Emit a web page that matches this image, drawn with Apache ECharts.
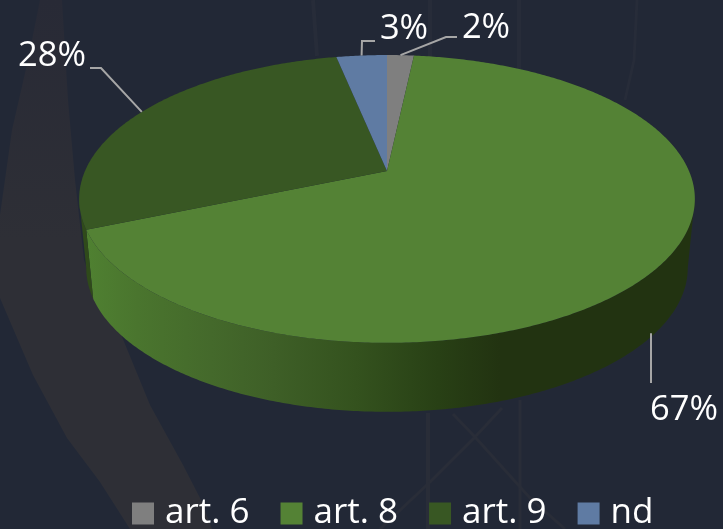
<!DOCTYPE html>
<html>
<head>
<meta charset="utf-8">
<style>
  html, body { margin: 0; padding: 0; background: #222836; }
  #chart { width: 723px; height: 529px; }
</style>
<script src="https://cdn.jsdelivr.net/npm/echarts@6/dist/echarts.min.js"></script>
</head>
<body>
<div id="chart"></div>
<script>
var categories = ['art. 6', 'art. 8', 'art. 9', 'nd'];
// estimated from the slice edges, the labels show them rounded
var shares = [1.7, 66.9, 28.2, 3.2];

var colors = ['#7f7f7f', '#548235', '#385723', '#5f7ba3'];
var total = shares.reduce(function (a, b) { return a + b; }, 0);
var fontName = '"Open Sans", "Noto Sans", sans-serif';

// pie is seen in perspective, so the circle goes through a projective map
var cx = 387, apexY = 171, rU = 302, rV = 105.3, k = -0.194;
var depth = 69, bottomScale = 0.977;
var sideRight = Math.acos(k), sideLeft = Math.PI * 2 - sideRight;

function rim(theta) {
  var u = Math.sin(theta), v = -Math.cos(theta), w = 1 + k * v;
  return [cx + rU * u / w, (apexY + rV * v) / w];
}
function lower(p) {
  return [cx + (p[0] - cx) * bottomScale, p[1] + depth];
}
function arc(a0, a1) {
  var n = Math.max(2, Math.ceil(Math.abs(a1 - a0) / 0.01)), pts = [];
  for (var i = 0; i <= n; i++) pts.push(rim(a0 + (a1 - a0) * i / n));
  return pts;
}

var wallFront = new echarts.graphic.LinearGradient(88, 0, 500, 0, [
  { offset: 0, color: '#4f8031' },
  { offset: 0.12, color: '#4a752e' },
  { offset: 0.3, color: '#44692b' },
  { offset: 0.45, color: '#3e5f27' },
  { offset: 0.65, color: '#34521e' },
  { offset: 0.85, color: '#284015' },
  { offset: 1, color: '#223311' }
], true);
var wallFills = ['#5c5c5c', wallFront, '#2f4a1a', '#44597a'];

// label anchors: elbow and text position relative to the picture
var labelSpots = [
  { elbow: [[446, 37], [457, 37]], text: [486, 28] },
  { elbow: [[651, 383]], text: [684, 410], onWall: true },
  { elbow: [[101, 68], [90, 68]], text: [52, 56] },
  { elbow: [[362, 41], [375, 41]], text: [404, 29] }
];

function sliceSeries(name, idx) {
  var before = shares.slice(0, idx).reduce(function (a, b) { return a + b; }, 0);
  return {
    type: 'custom',
    name: name,
    coordinateSystem: 'none',
    silent: true,
    animation: false,
    itemStyle: { color: colors[idx] },
    data: [[shares[idx]]],
    renderItem: function (params, api) {
      var a0 = before / total * Math.PI * 2;
      var a1 = (before + api.value(0)) / total * Math.PI * 2;
      var top = arc(a0, a1);
      var apex = [cx, apexY];
      var mid = rim((a0 + a1) / 2);
      var spot = labelSpots[idx];
      // the leader on the side drops straight down
      var start = spot.onWall ? [spot.elbow[0][0], lower(mid)[1]] : mid;
      var line = [start].concat(spot.elbow);
      var children = [
        { type: 'polygon', z2: 10, shape: { points: [apex].concat(top) }, style: { fill: colors[idx] } },
        { type: 'polyline', z2: 20, shape: { points: line }, style: { fill: null, stroke: '#a6a6a6', lineWidth: 2 } },
        { type: 'text', z2: 20, style: {
            x: spot.text[0], y: spot.text[1], text: Math.round(api.value(0)) + '%',
            fill: '#ffffff', font: '34.5px ' + fontName, align: 'center', verticalAlign: 'middle'
        } }
      ];
      // only the front of the rim has a visible side, between its two widest points
      var s0 = Math.max(a0, sideRight), s1 = Math.min(a1, sideLeft);
      if (s1 > s0) {
        var wallTop = arc(s0, s1);
        children.push({ type: 'polygon', z2: 1, shape: { points: wallTop.concat(wallTop.map(lower).reverse()) }, style: { fill: wallFills[idx] } });
      }
      return { type: 'group', children: children };
    }
  };
}

var myChart = echarts.init(document.getElementById('chart'), null, { renderer: 'canvas' });
myChart.setOption({
  backgroundColor: '#222836',
  animation: false,
  legend: {
    data: categories,
    left: 127,
    top: 491,
    icon: 'rect',
    itemWidth: 22,
    itemHeight: 22,
    itemGap: 31,
    selectedMode: false,
    textStyle: { color: '#ffffff', fontSize: 35, fontFamily: fontName, padding: [0, 0, 0, 6] }
  },
  // faint picture behind the chart
  graphic: [
    { type: 'polygon', z: 0, silent: true,
      shape: { points: [[40, 0], [62, 0], [68, 100], [75, 180], [84, 260], [97, 298], [120, 332], [150, 405], [183, 465], [200, 498], [212, 529], [130, 529], [100, 482], [67, 438], [33, 375], [0, 298], [0, 215], [12, 130], [28, 60]] },
      style: { fill: new echarts.graphic.LinearGradient(0, 0, 0, 240, [
        { offset: 0, color: '#282a36' },
        { offset: 1, color: '#2e2f36' }
      ], true) } },
    { type: 'polyline', z: 0, silent: true, shape: { points: [[428, 413], [428, 529]] }, style: { stroke: '#292d38', lineWidth: 4, fill: null } },
    { type: 'polyline', z: 0, silent: true, shape: { points: [[520, 400], [520, 529]] }, style: { stroke: '#292d38', lineWidth: 3, fill: null } },
    { type: 'polyline', z: 0, silent: true, shape: { points: [[380, 529], [430, 482], [475, 437], [502, 408]] }, style: { stroke: '#292d38', lineWidth: 3, fill: null } },
    { type: 'polyline', z: 0, silent: true, shape: { points: [[453, 414], [475, 437], [530, 498], [565, 529]] }, style: { stroke: '#292d38', lineWidth: 3, fill: null } },
    { type: 'polyline', z: 0, silent: true, shape: { points: [[313, 0], [317, 56]] }, style: { stroke: '#272c39', lineWidth: 4, fill: null } },
    { type: 'polyline', z: 0, silent: true, shape: { points: [[430, 0], [430, 60]] }, style: { stroke: '#272c39', lineWidth: 4, fill: null } },
    { type: 'polyline', z: 0, silent: true, shape: { points: [[519, 0], [519, 70]] }, style: { stroke: '#272c39', lineWidth: 4, fill: null } },
    { type: 'polyline', z: 0, silent: true, shape: { points: [[637, 0], [634, 60], [625, 100]] }, style: { stroke: '#272c39', lineWidth: 3, fill: null } }
  ],
  series: categories.map(sliceSeries)
});
</script>
</body>
</html>
